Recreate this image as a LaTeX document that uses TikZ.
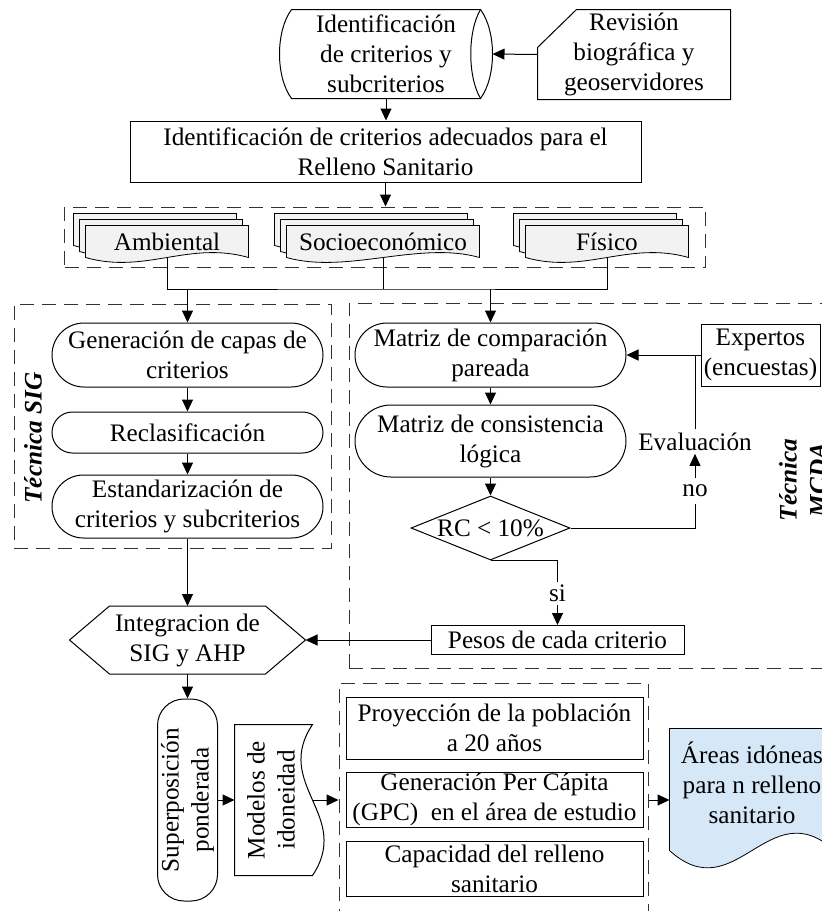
\documentclass[tikz,border=0pt]{standalone}
\usepackage{fontspec}
\setmainfont{Liberation Serif}
\usepackage{tikz}
\usetikzlibrary{arrows.meta,positioning,shapes.geometric,backgrounds}
\definecolor{cardgray}{HTML}{F2F2F2}
\definecolor{resblue}{HTML}{D6E8F8}
\tikzset{
  flowtxt/.style={font=\fontsize{12.6}{15}\selectfont,align=center},
  outlinenode/.style={flowtxt,inner sep=0pt},
  procbox/.style={flowtxt,draw=black,rectangle,inner sep=1pt},
  termbox/.style={flowtxt,draw=black,rectangle,inner sep=1pt,rounded corners=#1},
  grpbox/.style={draw=black!80,dash pattern=on 7pt off 4pt,inner sep=0pt},
  decbox/.style={flowtxt,draw=black,diamond,aspect=2.5,inner sep=0pt},
  lbltxt/.style={flowtxt,inner sep=2pt},
  techlbl/.style={flowtxt,font=\fontsize{12.6}{15}\selectfont\bfseries\itshape,rotate=90},
  flowarr/.style={-{Triangle[length=6pt,width=5.5pt]}},
  docfill/.style={draw=black,fill=cardgray},
}

\begin{document}
\begin{tikzpicture}[x=0.5pt,y=-0.5pt,line width=0.5pt]
  \useasboundingbox (0,0) rectangle (822,911);
  \clip (0,0) rectangle (822,911);
  % criterios
  \node[outlinenode,minimum width=94pt,minimum height=44pt] (idcrit) at (386,54) {Identificación\\de criterios y\\subcriterios};
  \draw (idcrit.north west) .. controls +(-16,22) and +(-16,-22) .. (idcrit.south west) -- (idcrit.south east) .. controls +(16,-22) and +(16,22) .. (idcrit.north east) -- cycle;
  \draw (idcrit.north east) .. controls +(-13,22) and +(-13,-22) .. (idcrit.south east);
  \node[outlinenode,minimum width=96pt,minimum height=44.5pt] (revis) at (634,54.5) {Revisión\\biográfica y\\geoservidores};
  \draw (revis.north east) -- (revis.south east) -- (revis.south west) -- +(0,-52) -- ([xshift=19.5pt]revis.north west) -- cycle;
  \draw[flowarr] (revis.west) -- ([xshift=6pt]idcrit.east);
  \node[procbox,minimum width=255.5pt,minimum height=30.5pt] (idadec) at (385.5,151.5) {Identificación de criterios adecuados para el\\Relleno Sanitario};
  \draw[flowarr] (idcrit.south) -- (idcrit.south |- idadec.north);

  % grupos de criterios
  \node[grpbox,minimum width=320.5pt,minimum height=30pt] (grp) at (385,237) {};
  \draw[flowarr] (idadec.south) -- (idadec.south |- grp.north);
  \node[outlinenode,minimum width=81pt,minimum height=15.5pt] (amb) at (167,241.5) {Ambiental};
  \node[outlinenode,minimum width=96pt,minimum height=15.5pt] (soc) at (383,241.5) {Socioeconómico};
  \node[outlinenode,minimum width=81pt,minimum height=15.5pt] (fis) at (607,241.5) {Físico};
  \begin{scope}[on background layer]
    \foreach \card in {amb,soc,fis}
      \foreach \d in {12,6,0}
        \draw[docfill] ([shift={(-\d,-\d)}]\card.north west) -- ([shift={(-\d,-\d)}]\card.north east) -- ([shift={(-\d,-\d)}]\card.south east) .. controls +(-60,-17) and +(60,17) .. ([shift={(-\d,-\d)}]\card.south west) -- cycle;
  \end{scope}
  \coordinate (bus) at (385,289);
  \draw (amb.south) |- (bus) -| (fis.south);
  \draw (soc.south) -- (soc.south |- bus);

  % tecnica SIG
  \node[grpbox,minimum width=158.5pt,minimum height=122pt] (sigbox) at (172.5,426) {};
  \node[techlbl] (siglbl) at (33,438) {Técnica SIG};
  \node[termbox=16pt,minimum width=135.5pt,minimum height=32pt] (gencap) at (187.5,355) {Generación de capas de\\criterios};
  \node[termbox=10.25pt,minimum width=135.5pt,minimum height=20.5pt] (reclas) at (187.5,432.5) {Reclasificación};
  \node[termbox=15.75pt,minimum width=135.5pt,minimum height=31.5pt] (estand) at (187.5,506.5) {Estandarización de\\criterios y subcriterios};
  \draw[flowarr] (gencap.north |- bus) -- (gencap.north);
  \draw[flowarr] (gencap) -- (reclas);
  \draw[flowarr] (reclas) -- (estand);

  % tecnica MCDA
  \node[grpbox,minimum width=255.5pt,minimum height=182.5pt] (mcdabox) at (604.5,485.5) {};
  \node[techlbl] (mcdalbl) at (803,480) {Técnica\\MCDA};
  \node[termbox=16pt,minimum width=135.5pt,minimum height=32pt] (mcomp) at (490.5,355) {Matriz de comparación\\pareada};
  \node[termbox=18pt,minimum width=135.5pt,minimum height=36pt] (mcons) at (490.5,441) {Matriz de consistencia\\lógica};
  \node[decbox,minimum width=79.5pt,minimum height=32pt] (rc) at (490.5,528) {RC < 10\%};
  \node[procbox,minimum width=59.5pt,minimum height=31pt] (expert) at (760.5,355) {Expertos\\(encuestas)};
  \node[lbltxt,inner sep=1.5pt] (evallbl) at (695,441.5) {Evaluación};
  \node[lbltxt,inner sep=3pt] (nolbl) at (695,491) {no};
  \node[lbltxt,inner sep=1.5pt] (silbl) at (557.5,593.5) {si};
  \node[procbox,minimum width=126.5pt,minimum height=14.5pt] (pesos) at (557.5,640) {Pesos de cada criterio};
  \draw[flowarr] (mcomp.north |- bus) -- (mcomp.north);
  \draw[flowarr] (mcomp) -- (mcons);
  \draw[flowarr] (mcons) -- (rc);
  \draw[flowarr] (expert) -- (mcomp);
  \draw (rc.east) -| (nolbl.south);
  \draw[flowarr] (nolbl) -- (evallbl);
  \draw (evallbl.north) -- (evallbl.north |- expert.west);
  \draw (rc.south) -| (silbl.north);
  \draw[flowarr] (silbl) -- (pesos);

  % integracion
  \node[outlinenode,minimum width=117.5pt,minimum height=33.5pt] (integ) at (187.5,640) {Integracion de\\SIG y AHP};
  \draw (integ.west) -- ([xshift=20pt]integ.north west) -- ([xshift=-20pt]integ.north east) -- (integ.east) -- ([xshift=-20pt]integ.south east) -- ([xshift=20pt]integ.south west) -- cycle;
  \draw[flowarr] (estand) -- (integ);
  \draw[flowarr] (pesos) -- (integ.east);

  % resultados
  \node[flowtxt,draw=black,rectangle,rounded corners=13.25pt,inner sep=0pt,minimum width=26.5pt,minimum height=101pt] (superpos) at (187.5,800) {\rotatebox{90}{\begin{tabular}{@{}c@{}}Superposición\\ponderada\end{tabular}}};
  \node[outlinenode,minimum width=38.5pt,minimum height=75pt] (modelos) at (273.5,800) {\rotatebox{90}{\begin{tabular}{@{}c@{}}Modelos de\\idoneidad\end{tabular}}};
  \draw (modelos.north east) .. controls +(-40,60) and +(40,-60) .. (modelos.south east) -- (modelos.south west) -- (modelos.north west) -- cycle;
  \draw[flowarr] (integ) -- (superpos);
  \draw[flowarr] (superpos) -- (modelos);
  \node[grpbox,minimum width=154.5pt,minimum height=117pt] (botbox) at (493.5,800) {};
  \draw[flowarr] (modelos.east) -- (botbox.west);
  \node[procbox,minimum width=148.5pt,minimum height=31pt] (proy) at (494.5,728) {Proyección de la población\\a 20 años};
  \node[procbox,minimum width=148.5pt,minimum height=27.5pt,inner sep=0pt] (gpc) at (494.5,799.5) {Generación Per Cápita\\(GPC)\ \ en el área de estudio};
  \node[procbox,minimum width=148.5pt,minimum height=27.5pt,inner sep=0pt] (capac) at (494.5,868.5) {Capacidad del relleno\\sanitario};
  \node[outlinenode,minimum width=82pt,minimum height=54pt] (areas) at (752,783) {Áreas idóneas\\para n relleno\\sanitario};
  \begin{scope}[on background layer]
    \draw[draw=black,fill=resblue] (areas.north west) -- (areas.north east) -- ([yshift=-6.5pt]areas.south east) .. controls +(-66,-60) and +(66,60) .. ([yshift=-6.5pt]areas.south west) -- cycle;
  \end{scope}
  \draw[flowarr] (botbox.east) -- (botbox.east -| areas.west);
\end{tikzpicture}
\end{document}
